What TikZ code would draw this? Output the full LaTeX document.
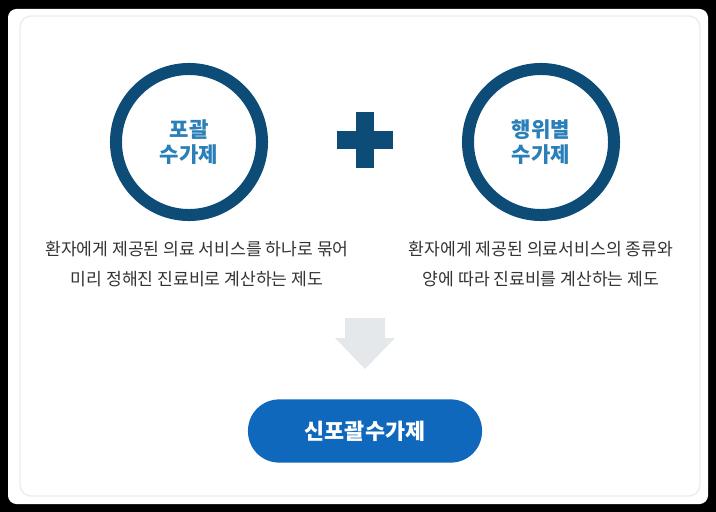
\documentclass[tikz,border=0pt]{standalone}
\usepackage{fontspec}
\setmainfont{Noto Sans CJK KR}
\usetikzlibrary{positioning}
\definecolor{ringblue}{HTML}{0E4C78}
\definecolor{textblue}{HTML}{2A7FB8}
\definecolor{pillblue}{HTML}{0F68BC}
\definecolor{textgray}{HTML}{333333}
\definecolor{arrowgray}{HTML}{E4E8EB}
\tikzset{
  ring/.style={circle,draw=ringblue,line width=0.3cm,minimum size=3.65cm,
    align=center,text=textblue,font=\fontsize{15}{18}\selectfont\bfseries},
  desc/.style={align=center,text=textgray,font=\fontsize{12.2}{21.5}\selectfont},
  pill/.style={rounded corners=0.78cm,fill=pillblue,minimum width=5.85cm,
    minimum height=1.58cm,text=white,font=\fontsize{15.5}{18}\selectfont\bfseries}
}
\begin{document}
\begin{tikzpicture}[x=0.025cm,y=-0.025cm]
  \useasboundingbox (0,0) rectangle (716,512);
  \fill[black] (0,0) rectangle (716,512);% frame
  \fill[white,rounded corners=6] (8,9) rectangle (708,504);
  \draw[gray!15,line width=1pt,rounded corners=8] (20,16) rectangle (700,496);% card

  \node[ring] (bundle) at (189,142) {포괄\\수가제};
  \node[ring] (service) at (541,142) {행위별\\수가제};
  % plus sign
  \fill[ringblue] (337,131) rectangle (393,149);
  \fill[ringblue] (356,112) rectangle (374,168);

  \node[desc] (bundletext) at (197,264) {환자에게 제공된 의료 서비스를 하나로 묶어\\미리 정해진 진료비로 계산하는 제도};
  \node[desc] (servicetext) at (541,264) {환자에게 제공된 의료서비스의 종류와\\양에 따라 진료비를 계산하는 제도};

  % down arrow
  \fill[arrowgray] (345,318) -- (385,318) -- (385,338) -- (395,338) -- (365,369)
    -- (335,338) -- (345,338) -- cycle;

  \node[pill] (newbundle) at (365,431) {신포괄수가제};
\end{tikzpicture}
\end{document}
